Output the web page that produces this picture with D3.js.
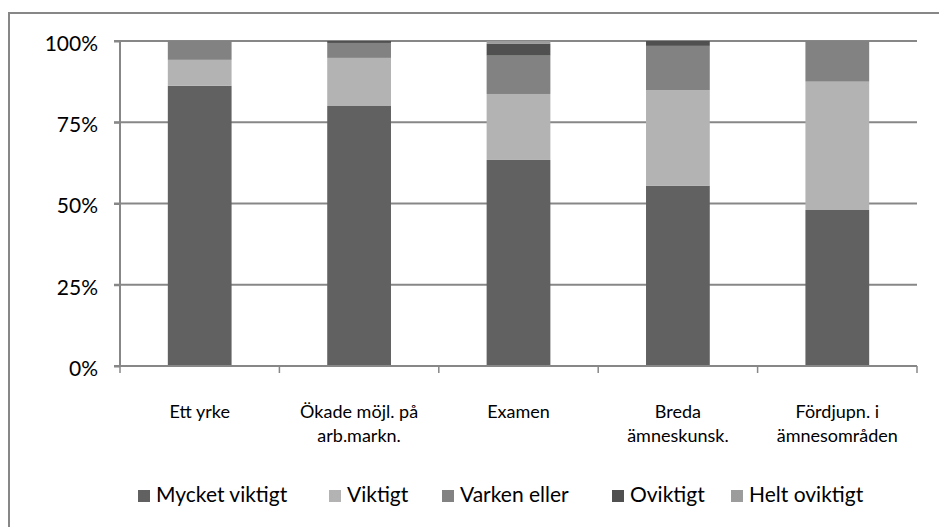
<!DOCTYPE html>
<html>
<head>
<meta charset="utf-8">
<script src="https://cdn.jsdelivr.net/npm/d3@7"></script>
<style>
  html, body { margin: 0; padding: 0; background: #fff; }
  svg { display: block; }
  text { font-family: Lato, "Open Sans", sans-serif; fill: #000; }
</style>
</head>
<body>
<svg id="chart" width="939" height="527"></svg>
<script>
// Categories (two-line labels split on "\n")
const categories = [
  "Ett yrke",
  "Ökade möjl. på\narb.markn.",
  "Examen",
  "Breda\nämneskunsk.",
  "Fördjupn. i\nämnesområden"
];

// Share of answers per response level, in percent
const mycketViktigt = [86.2, 80.0, 63.4, 55.5, 48.0];
const viktigt       = [ 8.0, 14.8, 20.3, 29.4, 39.5];
const varkenEller   = [ 5.8,  4.6, 11.8, 13.6, 12.5];
const oviktigt      = [ 0.0,  0.6,  3.6,  1.5,  0.0];
const heltOviktigt  = [ 0.0,  0.0,  0.9,  0.0,  0.0];

const seriesNames  = ["Mycket viktigt", "Viktigt", "Varken eller", "Oviktigt", "Helt oviktigt"];
const seriesValues = [mycketViktigt, viktigt, varkenEller, oviktigt, heltOviktigt];
const seriesColors = ["#616161", "#b3b3b3", "#818281", "#4f504f", "#9c9c9c"];

const yTicks = [0, 0.25, 0.5, 0.75, 1];

const svg = d3.select("#chart");

// Outer chart frame
svg.append("rect")
  .attr("x", 9).attr("y", 13)
  .attr("width", 960).attr("height", 560)
  .attr("fill", "none")
  .attr("stroke", "#878787")
  .attr("stroke-width", 2);

const plot = { left: 120, right: 917, top: 41, bottom: 366 };

const x = d3.scaleBand()
  .domain(categories)
  .range([plot.left, plot.right])
  .paddingInner(0.6)
  .paddingOuter(0.3);

const y = d3.scaleLinear()
  .domain([0, 1])
  .range([plot.bottom, plot.top]);

// Build stacked table
const table = categories.map((c, i) => {
  const row = { category: c };
  seriesNames.forEach((s, j) => { row[s] = seriesValues[j][i] / 100; });
  return row;
});
const stacked = d3.stack().keys(seriesNames)(table);

// Gridlines
svg.append("g")
  .selectAll("line")
  .data(yTicks.filter(t => t > 0))
  .join("line")
  .attr("x1", plot.left - 6).attr("x2", plot.right)
  .attr("y1", d => y(d)).attr("y2", d => y(d))
  .attr("stroke", "#878787")
  .attr("stroke-width", 2);

// Bars
svg.append("g")
  .selectAll("g")
  .data(stacked)
  .join("g")
  .attr("fill", (d, i) => seriesColors[i])
  .selectAll("rect")
  .data(d => d)
  .join("rect")
  .attr("x", d => x(d.data.category))
  .attr("width", x.bandwidth())
  .attr("y", d => y(d[1]))
  .attr("height", d => Math.max(0, y(d[0]) - y(d[1])));

// Y axis
const yAxis = svg.append("g")
  .attr("transform", `translate(${plot.left},0)`)
  .call(d3.axisLeft(y).tickValues(yTicks).tickFormat(d3.format(".0%")).tickSize(6).tickPadding(16));
yAxis.select(".domain").attr("stroke", "#878787").attr("stroke-width", 2)
  .attr("d", `M0,${plot.top}V${plot.bottom}`);
yAxis.selectAll(".tick line").attr("stroke", "#878787").attr("stroke-width", 2);
yAxis.selectAll(".tick text")
  .style("font-family", "Lato, sans-serif")
  .style("font-size", "21px")
  .attr("dy", "0.45em")
  .attr("fill", "#000");

// X axis line and category boundary ticks
svg.append("line")
  .attr("x1", plot.left - 6).attr("x2", plot.right)
  .attr("y1", plot.bottom).attr("y2", plot.bottom)
  .attr("stroke", "#878787").attr("stroke-width", 2);

const step = x.step();
svg.append("g")
  .selectAll("line")
  .data(d3.range(categories.length + 1))
  .join("line")
  .attr("x1", i => plot.left + i * step)
  .attr("x2", i => plot.left + i * step)
  .attr("y1", plot.bottom).attr("y2", plot.bottom + 7)
  .attr("stroke", "#878787").attr("stroke-width", 1.5);

// Category labels
const xl = svg.append("g")
  .selectAll("text")
  .data(categories)
  .join("text")
  .attr("x", d => x(d) + x.bandwidth() / 2)
  .attr("y", 418)
  .attr("text-anchor", "middle")
  .style("font-size", "18px");
xl.selectAll("tspan")
  .data(d => d.split("\n"))
  .join("tspan")
  .attr("x", function () { return d3.select(this.parentNode).attr("x"); })
  .attr("dy", (d, i) => i === 0 ? 0 : 24)
  .text(d => d);

// Legend
const legendX = [138, 329, 442, 612, 731];
const lg = svg.append("g")
  .selectAll("g")
  .data(seriesNames)
  .join("g")
  .attr("transform", (d, i) => `translate(${legendX[i]},497)`);
lg.append("rect")
  .attr("x", 0).attr("y", -7)
  .attr("width", 12).attr("height", 12)
  .attr("fill", (d, i) => seriesColors[i]);
lg.append("text")
  .attr("x", 18).attr("y", 0)
  .attr("dominant-baseline", "middle")
  .style("font-size", "21px")
  .text(d => d);
</script>
</body>
</html>
